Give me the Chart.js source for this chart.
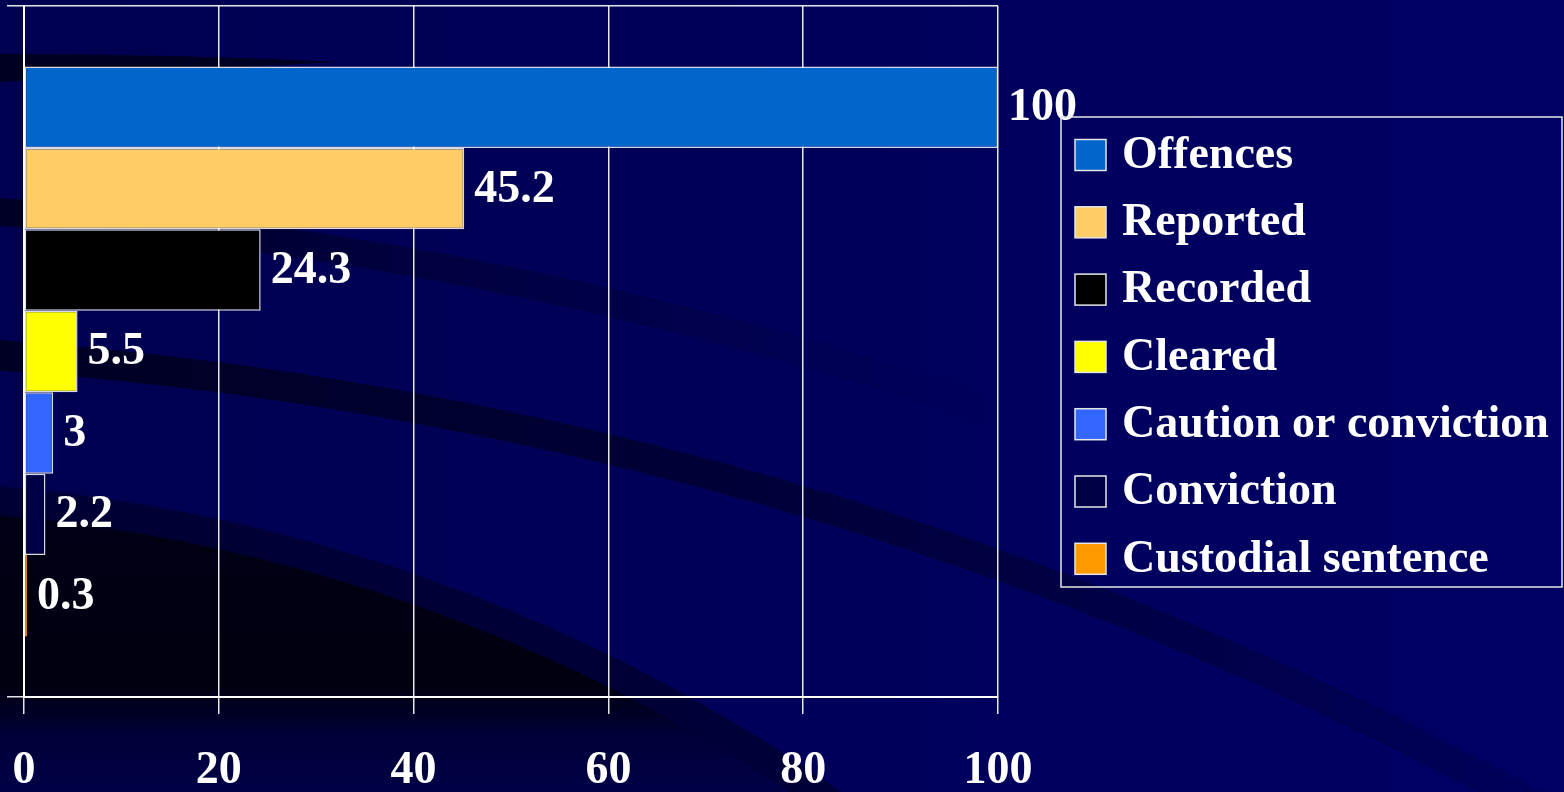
<!DOCTYPE html>
<html>
<head>
<meta charset="utf-8">
<script src="https://cdn.jsdelivr.net/npm/chart.js@4.4.1/dist/chart.umd.min.js"></script>
<style>
  html, body { margin: 0; padding: 0; background: #000058; }
  #grafico { display: block; }
</style>
</head>
<body>
<canvas id="grafico" width="1564" height="792"></canvas>
<script>
// Dados do gráfico
const categorias = [''];
const series = ['Offences', 'Reported', 'Recorded', 'Cleared', 'Caution or conviction', 'Conviction', 'Custodial sentence'];
const valores = [100, 45.2, 24.3, 5.5, 3, 2.2, 0.3];
const cores = ['#0066CC', '#FFCC66', '#000000', '#FFFF00', '#3366FF', '#000046', '#FF9900'];
const ticksX = [0, 20, 40, 60, 80, 100];

const fonte = '"Liberation Serif", "Times New Roman", serif';

// Fundo com as faixas curvas do modelo de slide
const fundo = {
    id: 'fundo',
    beforeDraw(chart) {
        const ctx = chart.ctx;
        const w = chart.width, h = chart.height;
        ctx.save();
        let g = ctx.createLinearGradient(0, 0, w, 0);
        g.addColorStop(0, '#000050');
        g.addColorStop(1, '#000064');
        ctx.fillStyle = g;
        ctx.fillRect(0, 0, w, h);

        // faixa de cima
        ctx.fillStyle = 'rgba(0, 0, 18, 0.75)';
        ctx.beginPath();
        ctx.moveTo(0, 54);
        ctx.quadraticCurveTo(170, 54, 340, 62);
        ctx.quadraticCurveTo(170, 70, 0, 82);
        ctx.closePath();
        ctx.fill();

        // faixas do meio
        g = ctx.createLinearGradient(0, 0, 1000, 0);
        g.addColorStop(0, 'rgba(0, 0, 20, 0.7)');
        g.addColorStop(0.4, 'rgba(0, 0, 20, 0.35)');
        g.addColorStop(1, 'rgba(0, 0, 20, 0)');
        ctx.strokeStyle = g;
        ctx.lineWidth = 28;
        ctx.beginPath();
        ctx.arc(-266, 4107, 3904, Math.PI * 1.3, Math.PI * 1.7);
        ctx.stroke();

        g = ctx.createLinearGradient(0, 0, w, 0);
        g.addColorStop(0, 'rgba(0, 0, 20, 0.75)');
        g.addColorStop(0.7, 'rgba(0, 0, 20, 0.35)');
        g.addColorStop(1, 'rgba(0, 0, 20, 0.1)');
        ctx.strokeStyle = g;
        ctx.lineWidth = 30;
        ctx.beginPath();
        ctx.arc(-266, 4107, 3761, Math.PI * 1.3, Math.PI * 1.7);
        ctx.stroke();

        // região escura de baixo
        ctx.beginPath();
        ctx.arc(-147, 2201, 1721, 0, Math.PI * 2);
        ctx.save();
        ctx.clip();
        ctx.fillStyle = 'rgba(0, 0, 30, 0.55)';
        ctx.fillRect(0, 0, w, h);
        ctx.beginPath();
        ctx.arc(-147, 2201, 1692, 0, Math.PI * 2);
        ctx.clip();
        g = ctx.createLinearGradient(0, 480, 0, 792);
        g.addColorStop(0, '#000018');
        g.addColorStop(0.65, '#00000f');
        g.addColorStop(0.82, '#000038');
        g.addColorStop(1, '#000046');
        ctx.fillStyle = g;
        ctx.fillRect(0, 0, w, h);
        ctx.restore();
        ctx.restore();
    }
};

// Rótulos com os valores ao lado das barras
const rotulos = {
    id: 'rotulos',
    afterDatasetsDraw(chart) {
        const ctx = chart.ctx;
        ctx.save();
        ctx.font = 'bold 46px ' + fonte;
        ctx.fillStyle = '#ffffff';
        ctx.textAlign = 'left';
        ctx.textBaseline = 'middle';
        chart.data.datasets.forEach((ds, i) => {
            const barra = chart.getDatasetMeta(i).data[0];
            ctx.fillText(String(ds.data[0]), barra.x + 10, barra.y + 1);
        });
        ctx.restore();
    }
};

// Legenda com moldura, à direita
const legenda = {
    id: 'legenda',
    afterDraw(chart) {
        const ctx = chart.ctx;
        const x0 = 1061, y0 = 117, x1 = 1562, y1 = 587;
        const passo = 67.3, primeira = 155, lado = 31;
        ctx.save();
        ctx.strokeStyle = '#e6e6e6';
        ctx.lineWidth = 1.5;
        ctx.strokeRect(x0, y0, x1 - x0, y1 - y0);
        ctx.font = 'bold 46px ' + fonte;
        ctx.textAlign = 'left';
        ctx.textBaseline = 'middle';
        chart.data.datasets.forEach((ds, i) => {
            const yc = primeira + i * passo;
            ctx.fillStyle = ds.backgroundColor;
            ctx.fillRect(1075, yc - lado / 2, lado, lado);
            ctx.strokeStyle = '#e6e6e6';
            ctx.strokeRect(1075, yc - lado / 2, lado, lado);
            ctx.fillStyle = '#ffffff';
            ctx.fillText(ds.label, 1122, yc + 1);
        });
        ctx.restore();
    }
};

const datasets = series.map((nome, i) => ({
    label: nome,
    data: [valores[i]],
    backgroundColor: cores[i],
    borderColor: valores[i] < 1 ? cores[i] : 'rgba(255, 255, 255, 0.85)',
    borderWidth: valores[i] < 1 ? 1 : 1.5,
    borderSkipped: false,
    categoryPercentage: 0.825,
    barPercentage: 1
}));

const ctx = document.getElementById('grafico').getContext('2d');
const grafico = new Chart(ctx, {
    type: 'bar',
    data: {
        labels: categorias,
        datasets: datasets
    },
    options: {
        indexAxis: 'y',
        responsive: false,
        animation: false,
        layout: {
            autoPadding: false,
            padding: { top: 6, left: 7, right: 566, bottom: 0 }
        },
        plugins: {
            tooltip: { enabled: false },
            legend: { display: false }
        },
        scales: {
            x: {
                type: 'linear',
                position: 'bottom',
                min: 0,
                max: 100,
                afterBuildTicks: (escala) => {
                    escala.ticks = ticksX.map(v => ({ value: v }));
                },
                afterFit: (escala) => {
                    escala.height = 95;
                    escala.paddingLeft = 0;
                    escala.paddingRight = 0;
                },
                grid: {
                    color: 'rgba(255, 255, 255, 0.9)',
                    lineWidth: 1.5,
                    tickLength: 17,
                    tickColor: 'rgba(255, 255, 255, 0.9)'
                },
                border: { display: true, color: '#ffffff', width: 2 },
                ticks: {
                    color: '#ffffff',
                    padding: 30,
                    maxRotation: 0,
                    font: { family: fonte, size: 46, weight: 'bold' }
                }
            },
            y: {
                type: 'category',
                position: 'left',
                afterFit: (escala) => { escala.width = 17; },
                grid: {
                    color: 'rgba(255, 255, 255, 0.9)',
                    lineWidth: 1.5,
                    tickLength: 17,
                    offset: true
                },
                border: { display: true, color: '#ffffff', width: 2 },
                ticks: { display: false }
            }
        }
    },
    plugins: [fundo, rotulos, legenda]
});
</script>
</body>
</html>
